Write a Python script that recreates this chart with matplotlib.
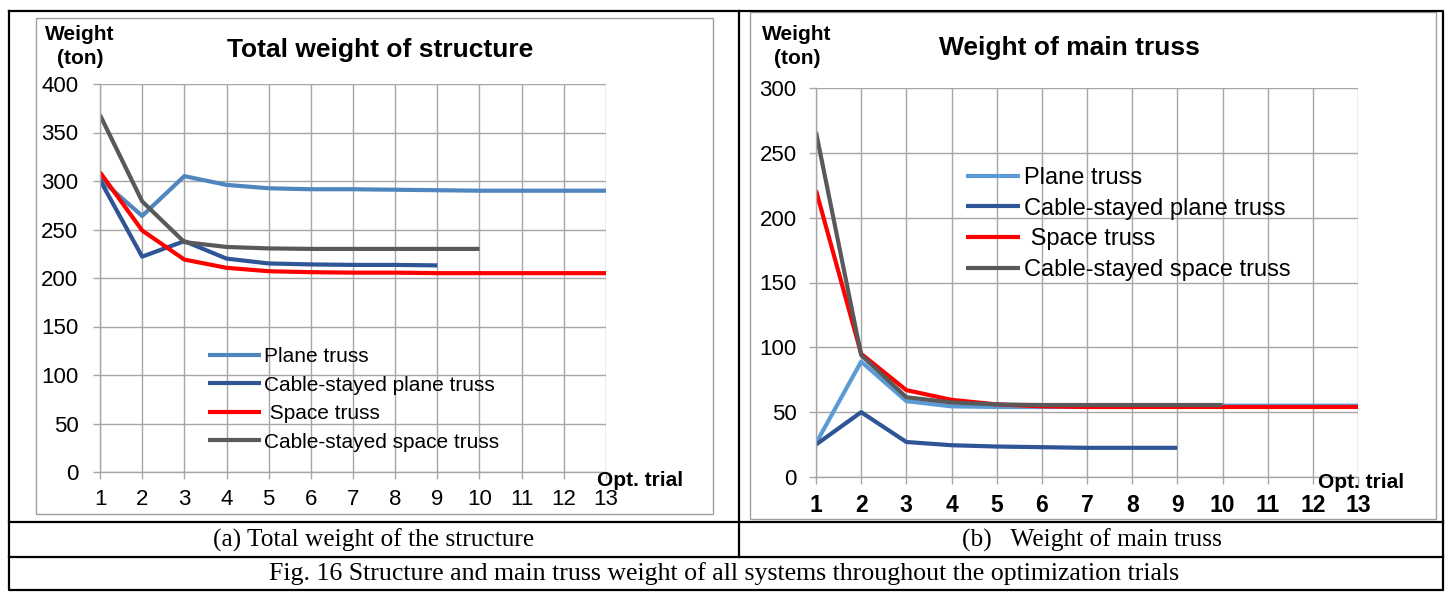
import numpy as np
import matplotlib
matplotlib.use("Agg")
import matplotlib.pyplot as plt
from matplotlib.lines import Line2D
from matplotlib.patches import Rectangle

plt.rcParams['font.family'] = ['Liberation Sans', 'DejaVu Sans']

W, H = 1448, 592

# data
trials = list(range(1, 14))
series_names = ['Plane truss', 'Cable-stayed plane truss', ' Space truss', 'Cable-stayed space truss']

total_plane = [302, 264, 305, 296, 292.5, 291.5, 291.5, 291, 290.5, 290, 290, 290, 290]
total_cs_plane = [301, 222, 238, 220, 215, 214, 213.5, 213.5, 213]
total_space = [309, 249, 219, 210.5, 207, 206, 205.5, 205.5, 205, 205, 205, 205, 205]
total_cs_space = [368, 279, 237, 232, 230.5, 230, 230, 230, 230, 230]

main_plane = [26, 89, 58.5, 54.5, 54, 54, 54, 54, 54.5, 55, 55, 55, 55]
main_cs_plane = [25, 50, 27, 24.5, 23.5, 23, 22.5, 22.5, 22.5]
main_space = [221, 95, 67, 59.5, 56, 54.5, 54, 54, 54, 54, 54, 54, 54]
main_cs_space = [266, 94, 61.5, 57.5, 56, 55.5, 55.5, 55.5, 55.5, 55.5]

left_colors = ['#4F86C0', '#2F5597', '#FF0000', '#595959']
right_colors = ['#5B9BD5', '#2F5597', '#FF0000', '#595959']
grid_c = '#A6A6A6'


def fx(px):
    return px / W


def fy(py):
    return 1 - py / H


def box(x0, y0, x1, y1):
    # pixel box (top-left origin) -> figure fraction rect
    return [fx(x0), fy(y1), fx(x1) - fx(x0), fy(y0) - fy(y1)]


fig = plt.figure(figsize=(W / 100, H / 100), dpi=100)

# table frame
def fline(xs, ys, c='black', lw=1.6):
    fig.add_artist(Line2D([fx(x) for x in xs], [fy(y) for y in ys], color=c, lw=lw,
                          transform=fig.transFigure))

fline([9, 1443, 1443, 9, 9], [11, 11, 590, 590, 11])
fline([739, 739], [11, 557])
fline([9, 1443], [522, 522])
fline([9, 1443], [557, 557])

# chart areas (grey borders)
for r in [(36, 18, 713, 514), (750, 12, 1436, 519)]:
    b = box(*r)
    fig.add_artist(Rectangle((b[0], b[1]), b[2], b[3], fill=False, ec='#A0A0A0', lw=1.0,
                             transform=fig.transFigure))


def setup(ax, ymax, tick_fs, xtick_fs, tick_bold, ypad):
    ax.set_xlim(1, 13)
    ax.set_ylim(0, ymax)
    ax.set_xticks(trials)
    ax.set_yticks(np.arange(0, ymax + 1, 50))
    ax.grid(True, color=grid_c, lw=1.0)
    ax.set_axisbelow(True)
    for s in ['top', 'right']:
        ax.spines[s].set_visible(False)
    for s in ['left', 'bottom']:
        ax.spines[s].set_color(grid_c)
        ax.spines[s].set_linewidth(1.0)
    ax.tick_params(axis='both', colors=grid_c, length=5, width=1.0, direction='out')
    ax.tick_params(axis='y', labelcolor='black', labelsize=tick_fs, pad=ypad)
    ax.tick_params(axis='x', labelcolor='black', labelsize=xtick_fs, pad=7)
    if tick_bold:
        for t in ax.get_xticklabels():
            t.set_fontweight('bold')
    ax.patch.set_alpha(0)


# (a) total weight
ax1 = fig.add_axes(box(100, 84, 606, 472))
setup(ax1, 400, 16, 16, False, 10.5)
for vals, c, n in zip([total_plane, total_cs_plane, total_space, total_cs_space], left_colors, series_names):
    ax1.plot(trials[:len(vals)], vals, color=c, lw=3.0, label=n, solid_capstyle='butt')
ax1.legend(loc='upper left', bbox_to_anchor=(fx(208), fy(347)), bbox_transform=fig.transFigure,
           frameon=False, fontsize=15, handlelength=2.55, handletextpad=0.15, labelspacing=0.46,
           borderpad=0, borderaxespad=0)

# (b) main truss
ax2 = fig.add_axes(box(816, 88, 1358, 477))
setup(ax2, 300, 16, 16.5, True, 9)
for vals, c, n in zip([main_plane, main_cs_plane, main_space, main_cs_space], right_colors, series_names):
    ax2.plot(trials[:len(vals)], vals, color=c, lw=3.0, label=n, solid_capstyle='butt')
ax2.legend(loc='upper left', bbox_to_anchor=(fx(966), fy(167)), bbox_transform=fig.transFigure,
           frameon=False, fontsize=17, handlelength=2.3, handletextpad=0.15, labelspacing=0.37,
           borderpad=0, borderaxespad=0)

# texts
def ftext(x, y, s, **kw):
    fig.text(fx(x), fy(y), s, **kw)

ftext(380, 50, 'Total weight of structure', fontsize=19, fontweight='bold', ha='center', va='center')
ftext(1069, 48, 'Weight of main truss', fontsize=19, fontweight='bold', ha='center', va='center')
for x in (80, 797):
    ftext(x, 35, 'Weight', fontsize=15, fontweight='bold', ha='center', va='center')
    ftext(x, 59, '(ton)', fontsize=15, fontweight='bold', ha='center', va='center')
ftext(640, 480, 'Opt. trial', fontsize=15, fontweight='bold', ha='center', va='center')
ftext(1361, 483, 'Opt. trial', fontsize=15, fontweight='bold', ha='center', va='center')

serif = ['Liberation Serif', 'DejaVu Serif']
ftext(374, 540, '(a) Total weight of the structure', fontsize=18.3, family=serif, ha='center', va='center')
ftext(1092, 540, '(b)   Weight of main truss', fontsize=18.3, family=serif, ha='center', va='center')
ftext(724, 574, 'Fig. 16 Structure and main truss weight of all systems throughout the optimization trials',
      fontsize=18.6, family=serif, ha='center', va='center')

fig.savefig('out.png', dpi=100)
